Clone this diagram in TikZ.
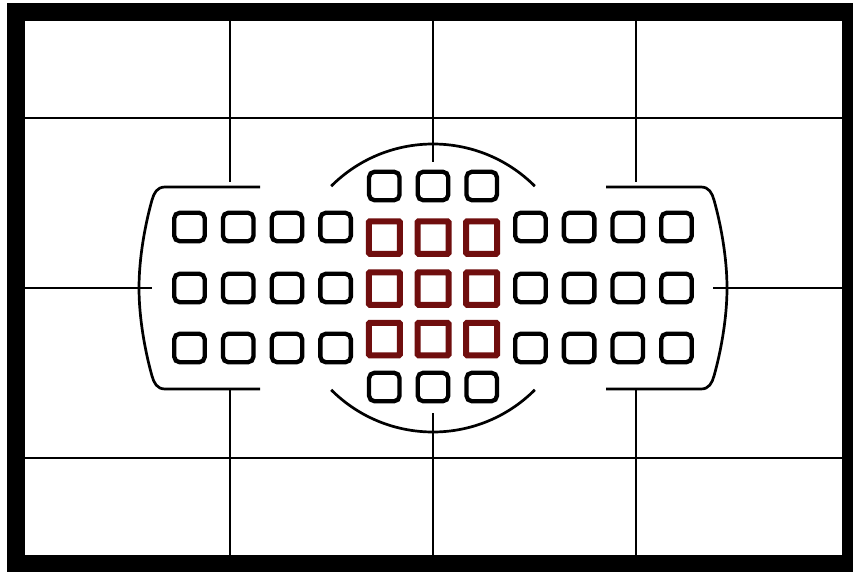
\documentclass[tikz,border=0pt]{standalone}
\definecolor{afred}{RGB}{112,14,14}
\begin{document}
\begin{tikzpicture}[x=1pt,y=-1pt,
  gridline/.style={line width=2.7pt, black},
  bracket/.style={line width=2.7pt, black},
  afbox/.style={draw=black, line width=4.3pt, rounded corners=5.5pt, minimum width=30.5pt, minimum height=28.5pt, inner sep=0pt},
  afcross/.style={draw=afred, line width=6pt, rounded corners=1pt, minimum width=31pt, minimum height=32.5pt, inner sep=0pt}]
\useasboundingbox (0,0) rectangle (853,572);
\fill[white] (0,0) rectangle (853,572);
\fill[black] (7,3) rectangle (853,572);
\fill[white] (25,21) rectangle (842,555);
% grid lines
\draw[gridline] (25,118) -- (842,118);
\draw[gridline] (25,458) -- (842,458);
\draw[gridline] (25,288) -- (152,288);
\draw[gridline] (713,288) -- (842,288);
\draw[gridline] (230,21) -- (230,182);
\draw[gridline] (230,389) -- (230,555);
\draw[gridline] (636,21) -- (636,182);
\draw[gridline] (636,389) -- (636,555);
\draw[gridline] (433,21) -- (433,162);
\draw[gridline] (433,413) -- (433,555);
% central arcs
\draw[bracket] (433,288) ++(225:144) arc[start angle=225,end angle=315,radius=144];
\draw[bracket] (433,288) ++(45:144) arc[start angle=45,end angle=135,radius=144];
% side brackets
\draw[bracket] (260,187) -- (165,187) .. controls (157,187) and (154,193) .. (152,200)
  .. controls (145,225) and (139,258) .. (139,288)
  .. controls (139,318) and (145,351) .. (152,376)
  .. controls (154,383) and (157,389) .. (165,389) -- (260,389);
\draw[bracket] (606,187) -- (701,187) .. controls (709,187) and (712,193) .. (714,200)
  .. controls (721,225) and (727,258) .. (727,288)
  .. controls (727,318) and (721,351) .. (714,376)
  .. controls (712,383) and (709,389) .. (701,389) -- (606,389);
% AF points
\foreach \k in {-5,-4,-3,-2,2,3,4,5}
  \foreach \r/\y in {1/227,2/288,3/348}
    \node[afbox] (b\k\r) at ({433+48.7*\k},\y) {};
\foreach \k in {-1,0,1} {
  \node[afbox] (t\k) at ({433+48.7*\k},186) {};
  \node[afbox] (u\k) at ({433+48.7*\k},387) {};
}
\foreach \k in {-1,0,1}
  \foreach \r/\y in {1/237.5,2/288.5,3/339}
    \node[afcross] (c\k\r) at ({433+48.7*\k},\y) {};
\end{tikzpicture}
\end{document}
